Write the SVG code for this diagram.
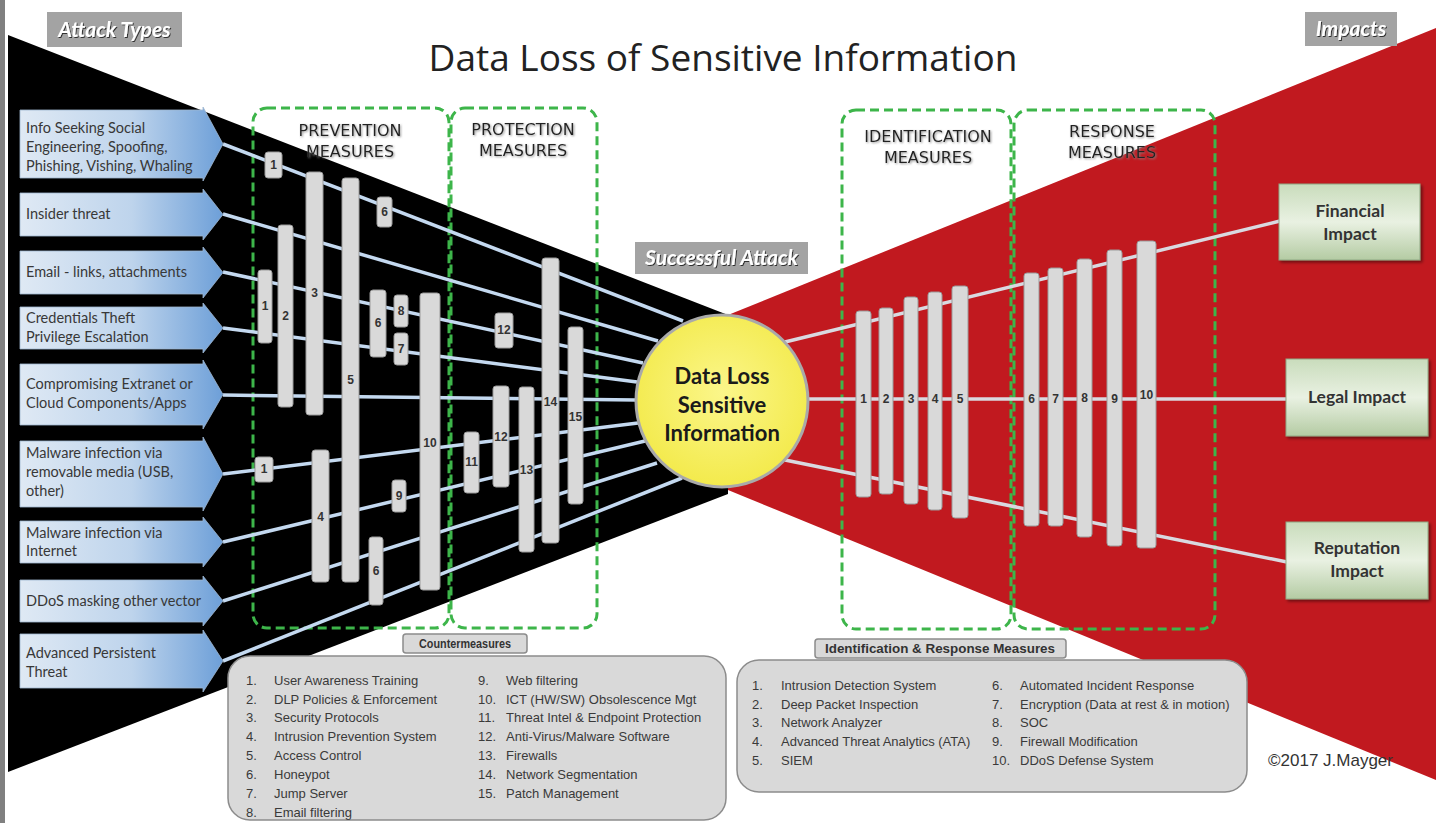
<svg xmlns="http://www.w3.org/2000/svg" width="1436" height="823" viewBox="0 0 1436 823">
<defs>
<style>
.bar{fill:#d9d9d9;stroke:#9b9b9b;stroke-width:1}
.bl{font-family:"Liberation Sans",Arial,sans-serif;font-weight:bold;font-size:12px;fill:#333;text-anchor:middle}
.dash{fill:none;stroke:#3db54a;stroke-width:3;stroke-dasharray:9 5}
.lline{stroke:#c4d9f0;stroke-width:3.5;fill:none}
.rline{stroke:#d9d9e0;stroke-width:3.5;fill:none}
.arrow{fill:url(#arrowGrad);stroke:#9fb6cf;stroke-width:0.8}
.at{font-family:Lato,"Open Sans",sans-serif;font-size:14.5px;fill:#383838}
.hdr{font-family:"DejaVu Sans",sans-serif;font-size:16px;fill:#222;text-anchor:middle}
.tag{fill:#a3a3a3}
.tagt{font-family:Lato,"Open Sans",sans-serif;font-weight:bold;font-style:italic;font-size:21px;fill:#fff;text-anchor:middle}
.lst{font-family:"Liberation Sans",Arial,sans-serif;font-size:13px;fill:#3a3a3a}
.lbox{fill:#d9d9d9;stroke:#8c8c8c;stroke-width:1.5}
.lhdr{font-family:"Liberation Sans",Arial,sans-serif;font-weight:bold;font-size:12.5px;fill:#333;text-anchor:middle}
.imp{fill:url(#impactGrad);stroke:#8fa884;stroke-width:1}
.impt{font-family:Lato,"Open Sans",sans-serif;font-weight:bold;font-size:17.5px;fill:#333;text-anchor:middle}
.ct{font-family:Lato,"Open Sans",sans-serif;font-weight:bold;font-size:22px;fill:#1a1a1a;text-anchor:middle}
</style>
<linearGradient id="arrowGrad" x1="0" y1="0" x2="1" y2="0">
<stop offset="0" stop-color="#dfe9f4"/>
<stop offset="0.55" stop-color="#bed4ec"/>
<stop offset="1" stop-color="#6d9fd8"/>
</linearGradient>
<linearGradient id="impactGrad" x1="0" y1="0" x2="0" y2="1">
<stop offset="0" stop-color="#c9dcbc"/>
<stop offset="0.5" stop-color="#e9f1e2"/>
<stop offset="1" stop-color="#b4cba3"/>
</linearGradient>
<radialGradient id="circleGrad" cx="0.5" cy="0.45" r="0.55">
<stop offset="0" stop-color="#fbf68a"/>
<stop offset="1" stop-color="#f3ea4c"/>
</radialGradient>
<filter id="shadow" x="-10%" y="-10%" width="130%" height="130%"><feDropShadow dx="2" dy="2" stdDeviation="1.5" flood-color="#000" flood-opacity="0.45"/></filter>
<filter id="tshadow" x="-10%" y="-20%" width="120%" height="150%"><feDropShadow dx="1" dy="1" stdDeviation="0.7" flood-color="#000" flood-opacity="0.7"/></filter>
<filter id="hshadow" x="-10%" y="-20%" width="120%" height="150%"><feDropShadow dx="1" dy="1" stdDeviation="0.8" flood-color="#888" flood-opacity="0.9"/></filter>
</defs>

<rect x="0" y="0" width="1436" height="823" fill="#ffffff"/>
<rect x="0" y="0" width="5" height="823" fill="#808080"/>

<g id="background">
<polygon points="8,35 728,315 728,494 8,772" fill="#000"/>
<polygon points="728,315 1436,28 1436,780 728,490" fill="#c1191f"/>
</g>

<text x="723" y="71" font-family="'Open Sans',sans-serif" font-size="37" fill="#222" text-anchor="middle">Data Loss of Sensitive Information</text>

<g id="tag-attack-types">
<rect class="tag" x="47" y="12" width="135" height="35"/>
<text class="tagt" x="114.5" y="37" filter="url(#tshadow)">Attack Types</text>
</g>
<g id="tag-impacts">
<rect class="tag" x="1305" y="12" width="92" height="34"/>
<text class="tagt" x="1351" y="36" filter="url(#tshadow)">Impacts</text>
</g>
<g id="tag-successful-attack">
<rect class="tag" x="635" y="242" width="173" height="32"/>
<text class="tagt" x="721.5" y="265" filter="url(#tshadow)">Successful Attack</text>
</g>

<g id="measure-groups">
<rect class="dash" x="253" y="108" width="196" height="520" rx="14"/>
<rect class="dash" x="451" y="108" width="146" height="520" rx="14"/>
<rect class="dash" x="842" y="110" width="169" height="519" rx="14"/>
<rect class="dash" x="1014" y="110" width="201" height="519" rx="14"/>
<g filter="url(#hshadow)">
<text class="hdr" x="350" y="136">PREVENTION</text>
<text class="hdr" x="350" y="157">MEASURES</text>
<text class="hdr" x="523" y="135">PROTECTION</text>
<text class="hdr" x="523" y="156">MEASURES</text>
<text class="hdr" x="928" y="142">IDENTIFICATION</text>
<text class="hdr" x="928" y="163">MEASURES</text>
<text class="hdr" x="1112" y="137">RESPONSE</text>
<text class="hdr" x="1112" y="158">MEASURES</text>
</g>
</g>

<g id="connectors">
<line class="lline" x1="223" y1="144" x2="683" y2="321"/>
<line class="lline" x1="223" y1="214" x2="658" y2="341"/>
<line class="lline" x1="223" y1="272" x2="643" y2="363"/>
<line class="lline" x1="223" y1="328" x2="637" y2="382"/>
<line class="lline" x1="223" y1="395" x2="636" y2="400"/>
<line class="lline" x1="223" y1="474" x2="638" y2="423"/>
<line class="lline" x1="223" y1="542" x2="645" y2="441"/>
<line class="lline" x1="223" y1="601" x2="657" y2="463"/>
<line class="lline" x1="223" y1="661" x2="682" y2="478"/>
<line class="rline" x1="785" y1="342" x2="1280" y2="221"/>
<line class="rline" x1="808" y1="399" x2="1287" y2="399"/>
<line class="rline" x1="785" y1="460" x2="1287" y2="562"/>
</g>

<g id="countermeasure-bars">
<g id="cm-1a"><rect class="bar" x="265" y="152" width="17" height="26" rx="3"/><text class="bl" x="273.5" y="169">1</text></g>
<g id="cm-1b"><rect class="bar" x="258" y="270" width="14" height="73" rx="3"/><text class="bl" x="265" y="310">1</text></g>
<g id="cm-2"><rect class="bar" x="278" y="225" width="15" height="182" rx="3"/><text class="bl" x="285.5" y="320">2</text></g>
<g id="cm-3"><rect class="bar" x="306" y="172" width="17" height="243" rx="3"/><text class="bl" x="314.5" y="297">3</text></g>
<g id="cm-5"><rect class="bar" x="342" y="178" width="17" height="404" rx="3"/><text class="bl" x="350.5" y="384">5</text></g>
<g id="cm-6a"><rect class="bar" x="377" y="197" width="15" height="30" rx="3"/><text class="bl" x="384.5" y="216">6</text></g>
<g id="cm-6b"><rect class="bar" x="370" y="290" width="16" height="67" rx="3"/><text class="bl" x="378" y="327">6</text></g>
<g id="cm-8"><rect class="bar" x="394" y="295" width="14" height="32" rx="3"/><text class="bl" x="401" y="315">8</text></g>
<g id="cm-7"><rect class="bar" x="394" y="333" width="14" height="32" rx="3"/><text class="bl" x="401" y="353">7</text></g>
<g id="cm-10"><rect class="bar" x="420" y="293" width="20" height="297" rx="3"/><text class="bl" x="430" y="447">10</text></g>
<g id="cm-1c"><rect class="bar" x="255" y="457" width="18" height="25" rx="3"/><text class="bl" x="264" y="473">1</text></g>
<g id="cm-4"><rect class="bar" x="312" y="450" width="17" height="132" rx="3"/><text class="bl" x="320.5" y="521">4</text></g>
<g id="cm-9"><rect class="bar" x="392" y="480" width="14" height="32" rx="3"/><text class="bl" x="399" y="500">9</text></g>
<g id="cm-6c"><rect class="bar" x="369" y="537" width="14" height="68" rx="3"/><text class="bl" x="376" y="575">6</text></g>
<g id="cm-12a"><rect class="bar" x="495" y="313" width="18" height="35" rx="3"/><text class="bl" x="504" y="334">12</text></g>
<g id="cm-14"><rect class="bar" x="542" y="258" width="17" height="285" rx="3"/><text class="bl" x="550.5" y="406">14</text></g>
<g id="cm-15"><rect class="bar" x="568" y="327" width="15" height="177" rx="3"/><text class="bl" x="575.5" y="421">15</text></g>
<g id="cm-11"><rect class="bar" x="464" y="432" width="15" height="61" rx="3"/><text class="bl" x="471.5" y="466">11</text></g>
<g id="cm-12b"><rect class="bar" x="493" y="386" width="16" height="101" rx="3"/><text class="bl" x="501" y="441">12</text></g>
<g id="cm-13"><rect class="bar" x="519" y="387" width="15" height="165" rx="3"/><text class="bl" x="526.5" y="474">13</text></g>
</g>

<g id="response-bars">
<g id="ir-1"><rect class="bar" x="856" y="311" width="15" height="186" rx="3"/><text class="bl" x="863.5" y="403">1</text></g>
<g id="ir-2"><rect class="bar" x="879" y="308" width="14" height="186" rx="3"/><text class="bl" x="886" y="403">2</text></g>
<g id="ir-3"><rect class="bar" x="904" y="297" width="14" height="207" rx="3"/><text class="bl" x="911" y="403">3</text></g>
<g id="ir-4"><rect class="bar" x="928" y="292" width="14" height="218" rx="3"/><text class="bl" x="935" y="403">4</text></g>
<g id="ir-5"><rect class="bar" x="952" y="286" width="16" height="232" rx="3"/><text class="bl" x="960" y="403">5</text></g>
<g id="ir-6"><rect class="bar" x="1024" y="273" width="15" height="253" rx="3"/><text class="bl" x="1031.5" y="403">6</text></g>
<g id="ir-7"><rect class="bar" x="1048" y="268" width="15" height="258" rx="3"/><text class="bl" x="1055.5" y="403">7</text></g>
<g id="ir-8"><rect class="bar" x="1077" y="259" width="15" height="278" rx="3"/><text class="bl" x="1084.5" y="402">8</text></g>
<g id="ir-9"><rect class="bar" x="1107" y="250" width="15" height="296" rx="3"/><text class="bl" x="1114.5" y="403">9</text></g>
<g id="ir-10"><rect class="bar" x="1137" y="241" width="19" height="307" rx="3"/><text class="bl" x="1146.5" y="399">10</text></g>
</g>

<g id="data-loss">
<circle cx="722" cy="401" r="86" fill="url(#circleGrad)" stroke="#a9a9a9" stroke-width="3"/>
<text class="ct" x="722" y="384">Data Loss</text>
<text class="ct" x="722" y="413">Sensitive</text>
<text class="ct" x="722" y="441">Information</text>
</g>

<g id="attack-info-seeking">
<path class="arrow" d="M20,110 H203 V107 L223,144 L203,181 V178 H20 Z"/>
<text class="at" x="26" y="133">Info Seeking Social</text>
<text class="at" x="26" y="152">Engineering, Spoofing,</text>
<text class="at" x="26" y="171">Phishing, Vishing, Whaling</text>
</g>
<g id="attack-insider">
<path class="arrow" d="M20,193 H203 V189 L223,214.5 L203,240 V236 H20 Z"/>
<text class="at" x="26" y="219">Insider threat</text>
</g>
<g id="attack-email">
<path class="arrow" d="M20,251 H203 V247 L223,272.5 L203,298 V294 H20 Z"/>
<text class="at" x="26" y="277">Email - links, attachments</text>
</g>
<g id="attack-credentials">
<path class="arrow" d="M20,307 H203 V303 L223,328 L203,353 V349 H20 Z"/>
<text class="at" x="26" y="323">Credentials Theft</text>
<text class="at" x="26" y="342">Privilege Escalation</text>
</g>
<g id="attack-extranet">
<path class="arrow" d="M20,364 H203 V360 L223,394.5 L203,429 V425 H20 Z"/>
<text class="at" x="26" y="389">Compromising Extranet or</text>
<text class="at" x="26" y="408">Cloud Components/Apps</text>
</g>
<g id="attack-malware-usb">
<path class="arrow" d="M20,441 H203 V437 L223,474 L203,511 V507 H20 Z"/>
<text class="at" x="26" y="458">Malware infection via</text>
<text class="at" x="26" y="477">removable media (USB,</text>
<text class="at" x="26" y="496">other)</text>
</g>
<g id="attack-malware-internet">
<path class="arrow" d="M20,521 H203 V517 L223,542 L203,567 V563 H20 Z"/>
<text class="at" x="26" y="538">Malware infection via</text>
<text class="at" x="26" y="556">Internet</text>
</g>
<g id="attack-ddos">
<path class="arrow" d="M20,580 H203 V576 L223,601 L203,626 V622 H20 Z"/>
<text class="at" x="26" y="606">DDoS masking other vector</text>
</g>
<g id="attack-apt">
<path class="arrow" d="M20,634 H203 V630 L223,661 L203,692 V688 H20 Z"/>
<text class="at" x="26" y="658">Advanced Persistent</text>
<text class="at" x="26" y="677">Threat</text>
</g>

<g id="impact-financial">
<rect class="imp" x="1279" y="184" width="141" height="76" filter="url(#shadow)"/>
<text class="impt" x="1350" y="217">Financial</text>
<text class="impt" x="1350" y="240">Impact</text>
</g>
<g id="impact-legal">
<rect class="imp" x="1286" y="359" width="142" height="77" filter="url(#shadow)"/>
<text class="impt" x="1357" y="403">Legal Impact</text>
</g>
<g id="impact-reputation">
<rect class="imp" x="1286" y="522" width="142" height="77" filter="url(#shadow)"/>
<text class="impt" x="1357" y="554">Reputation</text>
<text class="impt" x="1357" y="577">Impact</text>
</g>

<g id="countermeasures-list">
<rect class="lbox" x="403" y="634" width="124" height="19" rx="3"/>
<text class="lhdr" x="465" y="648" textLength="92" lengthAdjust="spacingAndGlyphs">Countermeasures</text>
<rect class="lbox" x="228" y="656" width="498" height="164" rx="22"/>
<g class="lst">
<text x="246" y="685">1.</text><text x="274" y="685">User Awareness Training</text>
<text x="246" y="704">2.</text><text x="274" y="704">DLP Policies  &amp; Enforcement</text>
<text x="246" y="722">3.</text><text x="274" y="722">Security Protocols</text>
<text x="246" y="741">4.</text><text x="274" y="741">Intrusion Prevention System</text>
<text x="246" y="760">5.</text><text x="274" y="760">Access Control</text>
<text x="246" y="779">6.</text><text x="274" y="779">Honeypot</text>
<text x="246" y="798">7.</text><text x="274" y="798">Jump Server</text>
<text x="246" y="817">8.</text><text x="274" y="817">Email filtering</text>
<text x="478" y="685">9.</text><text x="506" y="685">Web filtering</text>
<text x="478" y="704">10.</text><text x="506" y="704">ICT (HW/SW) Obsolescence Mgt</text>
<text x="478" y="722">11.</text><text x="506" y="722">Threat Intel &amp; Endpoint Protection</text>
<text x="478" y="741">12.</text><text x="506" y="741">Anti-Virus/Malware Software</text>
<text x="478" y="760">13.</text><text x="506" y="760">Firewalls</text>
<text x="478" y="779">14.</text><text x="506" y="779">Network Segmentation</text>
<text x="478" y="798">15.</text><text x="506" y="798">Patch Management</text>
</g>
</g>

<g id="identification-list">
<rect class="lbox" x="815" y="639" width="251" height="19" rx="3"/>
<text class="lhdr" x="940" y="653" textLength="230" lengthAdjust="spacingAndGlyphs">Identification &amp; Response Measures</text>
<rect class="lbox" x="737" y="660" width="510" height="132" rx="22"/>
<g class="lst">
<text x="752" y="690">1.</text><text x="781" y="690">Intrusion Detection System</text>
<text x="752" y="709">2.</text><text x="781" y="709">Deep Packet Inspection</text>
<text x="752" y="727">3.</text><text x="781" y="727">Network Analyzer</text>
<text x="752" y="746">4.</text><text x="781" y="746">Advanced Threat Analytics (ATA)</text>
<text x="752" y="765">5.</text><text x="781" y="765">SIEM</text>
<text x="992" y="690">6.</text><text x="1020" y="690">Automated Incident Response</text>
<text x="992" y="709">7.</text><text x="1020" y="709">Encryption (Data at rest &amp; in motion)</text>
<text x="992" y="727">8.</text><text x="1020" y="727">SOC</text>
<text x="992" y="746">9.</text><text x="1020" y="746">Firewall Modification</text>
<text x="992" y="765">10.</text><text x="1020" y="765">DDoS Defense System</text>
</g>
</g>

<text x="1268" y="766" font-family="'Liberation Sans',Arial,sans-serif" font-size="17" fill="#333">©2017 J.Mayger</text>
</svg>
